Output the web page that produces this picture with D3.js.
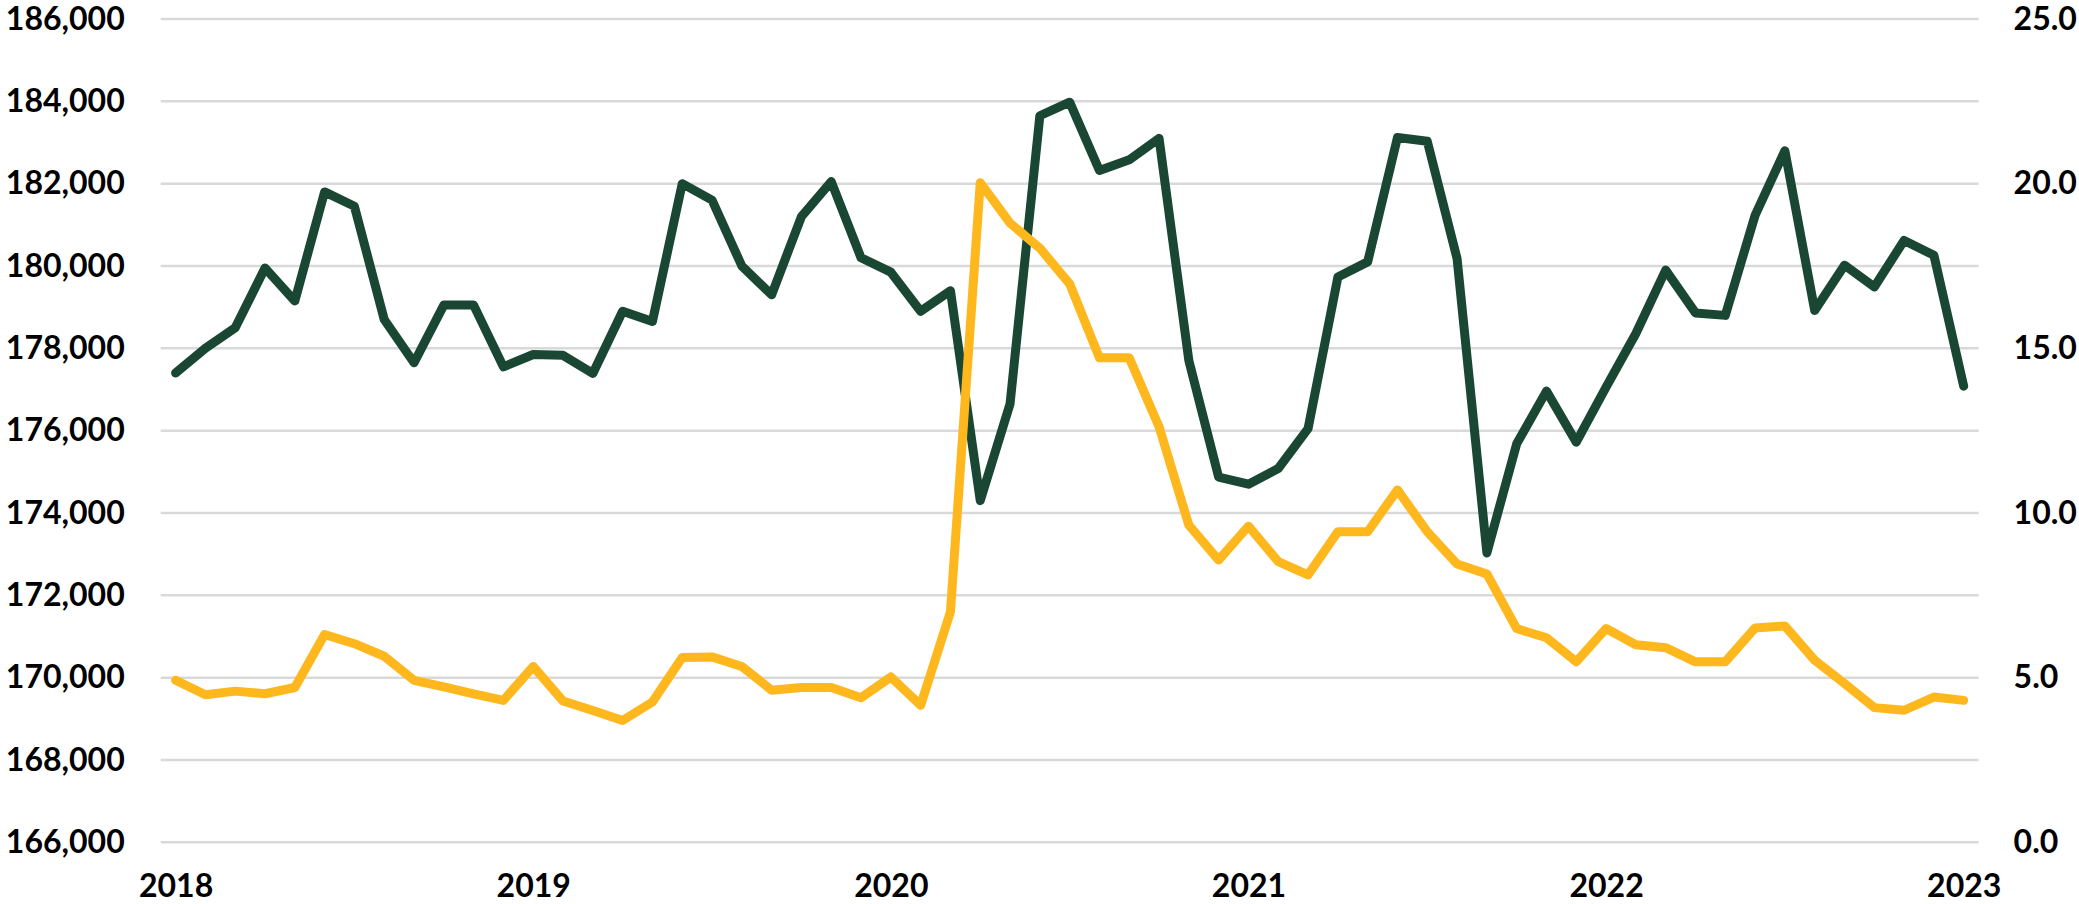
<!DOCTYPE html>
<html>
<head>
<meta charset="utf-8">
<script src="https://cdn.jsdelivr.net/npm/d3@7"></script>
<style>
  body { margin: 0; background: #fff; }
  text { font-family: Lato, 'Liberation Sans', sans-serif; font-weight: 700; }
</style>
</head>
<body>
<svg id="main"></svg>
<script>
// monthly, Jan 2018 .. Jan 2023
const months = d3.timeMonth.range(new Date(2018, 0, 1), new Date(2023, 0, 2)).map(d3.timeFormat('%Y-%m'));

// left axis series
const employment = [
  177400, 178000, 178500, 179950, 179150, 181800, 181450, 178700, 177650, 179050,
  179050, 177550, 177850, 177830, 177390, 178900, 178650, 182000, 181600, 180000,
  179300, 181200, 182050, 180200, 179850, 178900, 179400, 174300, 176650, 183650,
  183980, 182320, 182580, 183100, 177700, 174870, 174700, 175080, 176050, 179730,
  180100, 183120, 183030, 180180, 173030, 175680, 176960, 175720, 177060, 178360,
  179900, 178860, 178800, 181230, 182800, 178920, 180020, 179490, 180620, 180260,
  177080
];

// right axis series
const rate = [
  4.92, 4.48, 4.59, 4.51, 4.70, 6.31, 6.03, 5.65, 4.92, 4.72,
  4.51, 4.31, 5.34, 4.29, 4.00, 3.70, 4.26, 5.61, 5.63, 5.34,
  4.62, 4.70, 4.70, 4.39, 5.02, 4.16, 7.00, 20.03, 18.80, 18.04,
  16.96, 14.71, 14.71, 12.62, 9.63, 8.57, 9.60, 8.52, 8.12, 9.43,
  9.43, 10.70, 9.43, 8.45, 8.15, 6.49, 6.21, 5.48, 6.49, 6.00,
  5.91, 5.48, 5.48, 6.51, 6.57, 5.53, 4.82, 4.09, 4.01, 4.41,
  4.31
];

const yearTicks = ['2018-01', '2019-01', '2020-01', '2021-01', '2022-01', '2023-01'];
const yearLabels = ['2018', '2019', '2020', '2021', '2022', '2023'];
const leftTicks = [166000, 168000, 170000, 172000, 174000, 176000, 178000, 180000, 182000, 184000, 186000];
const rightTicks = [0, 5, 10, 15, 20, 25];

let width = 2079,
  height = 904;

const svg = d3.select('#main')
  .attr('width', width)
  .attr('height', height);

const x = d3.scalePoint()
  .domain(months)
  .range([160.7, 1978.6])
  .padding(0.5);

const yLeft = d3.scaleLinear()
  .domain([166000, 186000])
  .range([842.3, 19]);

const yRight = d3.scaleLinear()
  .domain([0, 25])
  .range([842.3, 19]);

// gridlines
svg.append('g')
  .selectAll('line')
  .data(leftTicks)
  .enter()
  .append('line')
  .attr('x1', 160.7)
  .attr('x2', 1978.6)
  .attr('y1', d => yLeft(d))
  .attr('y2', d => yLeft(d))
  .attr('stroke', '#d9d9d9')
  .attr('stroke-width', 2.5);

const styleAxis = g => {
  g.select('.domain').remove();
  g.selectAll('.tick line').remove();
  g.selectAll('text')
    .attr('font-size', '32px')
    .attr('fill', '#000');
};

svg.append('g')
  .attr('transform', 'translate(160.7,0)')
  .call(d3.axisLeft(yLeft).tickValues(leftTicks).tickSize(0).tickPadding(36)
    .tickFormat(d3.format(',')))
  .call(styleAxis);

svg.append('g')
  .attr('transform', 'translate(1978.6,0)')
  .call(d3.axisRight(yRight).tickValues(rightTicks).tickSize(0).tickPadding(35)
    .tickFormat(d3.format('.1f')))
  .call(styleAxis);

svg.append('g')
  .attr('transform', 'translate(0,842.3)')
  .call(d3.axisBottom(x).tickValues(yearTicks).tickSize(0).tickPadding(32)
    .tickFormat((d, i) => yearLabels[i]))
  .call(styleAxis);

const lineLeft = d3.line()
  .x((d, i) => x(months[i]))
  .y(d => yLeft(d));

const lineRight = d3.line()
  .x((d, i) => x(months[i]))
  .y(d => yRight(d));

svg.append('path')
  .datum(employment)
  .attr('d', lineLeft)
  .attr('fill', 'none')
  .attr('stroke', '#1a4733')
  .attr('stroke-width', 9)
  .attr('stroke-linejoin', 'round')
  .attr('stroke-linecap', 'round');

svg.append('path')
  .datum(rate)
  .attr('d', lineRight)
  .attr('fill', 'none')
  .attr('stroke', '#ffb71e')
  .attr('stroke-width', 9)
  .attr('stroke-linejoin', 'round')
  .attr('stroke-linecap', 'round');
</script>
</body>
</html>
